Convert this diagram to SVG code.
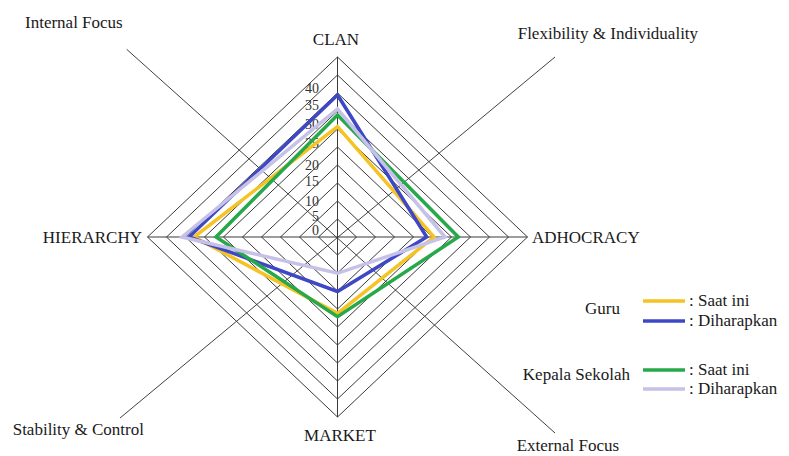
<svg xmlns="http://www.w3.org/2000/svg" width="789" height="456" viewBox="0 0 789 456">
  <style>
    .bg { fill: #ffffff; }
    .grid { fill: none; stroke: #3a3a3a; stroke-width: 1; }
    .axis { stroke: #3a3a3a; stroke-width: 1; fill: none; }
    .diag { stroke: #404040; stroke-width: 1; fill: none; }
    .lbl { font-family: 'Liberation Serif', 'DejaVu Serif', 'Times New Roman', serif; font-size: 17px; fill: #1a1a1a; }
    .tick { font-family: 'Liberation Serif', 'DejaVu Serif', 'Times New Roman', serif; font-size: 14px; fill: #333333; text-anchor: end; }
    .series { fill: none; stroke-width: 3.5; stroke-linejoin: miter; }
    .guru-now { stroke: #f5c322; }
    .guru-want { stroke: #3e47c6; }
    .ks-now { stroke: #27a84b; }
    .ks-want { stroke: #c6c1e6; }
    .key { stroke-width: 3.5; }
  </style>

  <rect class="bg" x="0" y="0" width="789" height="456"/>

  <!-- focus / flexibility diagonals -->
  <g id="connectors">
    <line class="diag" x1="126.7" y1="49.3" x2="555" y2="433"/>
    <line class="diag" x1="555" y1="57" x2="120" y2="418"/>
  </g>

  <!-- radar grid: ten rings, 5 units each -->
  <g id="grid">
    <polygon class="grid" points="337.5,219 356.5,237 337.5,255 318.5,237"/>
    <polygon class="grid" points="337.5,201 375.5,237 337.5,273 299.5,237"/>
    <polygon class="grid" points="337.5,183 394.5,237 337.5,291 280.5,237"/>
    <polygon class="grid" points="337.5,165 413.5,237 337.5,309 261.5,237"/>
    <polygon class="grid" points="337.5,147 432.5,237 337.5,327 242.5,237"/>
    <polygon class="grid" points="337.5,129 451.5,237 337.5,345 223.5,237"/>
    <polygon class="grid" points="337.5,111 470.5,237 337.5,363 204.5,237"/>
    <polygon class="grid" points="337.5,93 489.5,237 337.5,381 185.5,237"/>
    <polygon class="grid" points="337.5,75 508.5,237 337.5,399 166.5,237"/>
    <polygon class="grid" points="337.5,57 527.5,237 337.5,417 147.5,237"/>
    <line class="axis" x1="337.5" y1="57" x2="337.5" y2="417"/>
    <line class="axis" x1="147.5" y1="237" x2="527.5" y2="237"/>
  </g>

  <!-- scale labels -->
  <g id="scale">
    <text class="tick" x="319" y="235">0</text>
    <text class="tick" x="319" y="221">5</text>
    <text class="tick" x="319" y="206">10</text>
    <text class="tick" x="319" y="186">15</text>
    <text class="tick" x="319" y="169.5">20</text>
    <text class="tick" x="319" y="147.5">25</text>
    <text class="tick" x="319" y="129">30</text>
    <text class="tick" x="319" y="109.5">35</text>
    <text class="tick" x="319" y="93">40</text>
  </g>

  <!-- data series -->
  <g id="series">
    <polygon id="guru-saat-ini" class="series guru-now" points="337.5,126.7 434,237 337.5,313.3 194,237"/>
    <polygon id="guru-diharapkan" class="series guru-want" points="337.5,95 426.7,237 337.5,291.5 189,237"/>
    <polygon id="ks-saat-ini" class="series ks-now" points="337.5,115 458.3,237 337.5,316.7 216,237"/>
    <polygon id="ks-diharapkan" class="series ks-want" points="337.5,109 445,237 337.5,273.3 182,237"/>
  </g>

  <!-- axis titles -->
  <g id="node-clan"><text class="lbl" x="336" y="45" text-anchor="middle">CLAN</text></g>
  <g id="node-adhocracy"><text class="lbl" x="532" y="243">ADHOCRACY</text></g>
  <g id="node-market"><text class="lbl" x="340" y="441" text-anchor="middle">MARKET</text></g>
  <g id="node-hierarchy"><text class="lbl" x="142" y="243" text-anchor="end">HIERARCHY</text></g>
  <g id="node-internal"><text class="lbl" x="25" y="28">Internal Focus</text></g>
  <g id="node-flexibility"><text class="lbl" x="517.7" y="39">Flexibility &amp; Individuality</text></g>
  <g id="node-stability"><text class="lbl" x="12.7" y="435">Stability &amp; Control</text></g>
  <g id="node-external"><text class="lbl" x="516.7" y="451">External Focus</text></g>

  <!-- legend -->
  <g id="legend">
    <text class="lbl" x="585" y="314">Guru</text>
    <line class="key guru-now" x1="643" y1="301" x2="685" y2="301"/>
    <text class="lbl" x="689" y="305.5">: Saat ini</text>
    <line class="key guru-want" x1="643" y1="321" x2="685" y2="321"/>
    <text class="lbl" x="689" y="326">: Diharapkan</text>

    <text class="lbl" x="630" y="380" text-anchor="end">Kepala Sekolah</text>
    <line class="key ks-now" x1="643" y1="370" x2="685" y2="370"/>
    <text class="lbl" x="689" y="375">: Saat ini</text>
    <line class="key ks-want" x1="643" y1="389" x2="685" y2="389"/>
    <text class="lbl" x="689" y="394">: Diharapkan</text>
  </g>
</svg>
